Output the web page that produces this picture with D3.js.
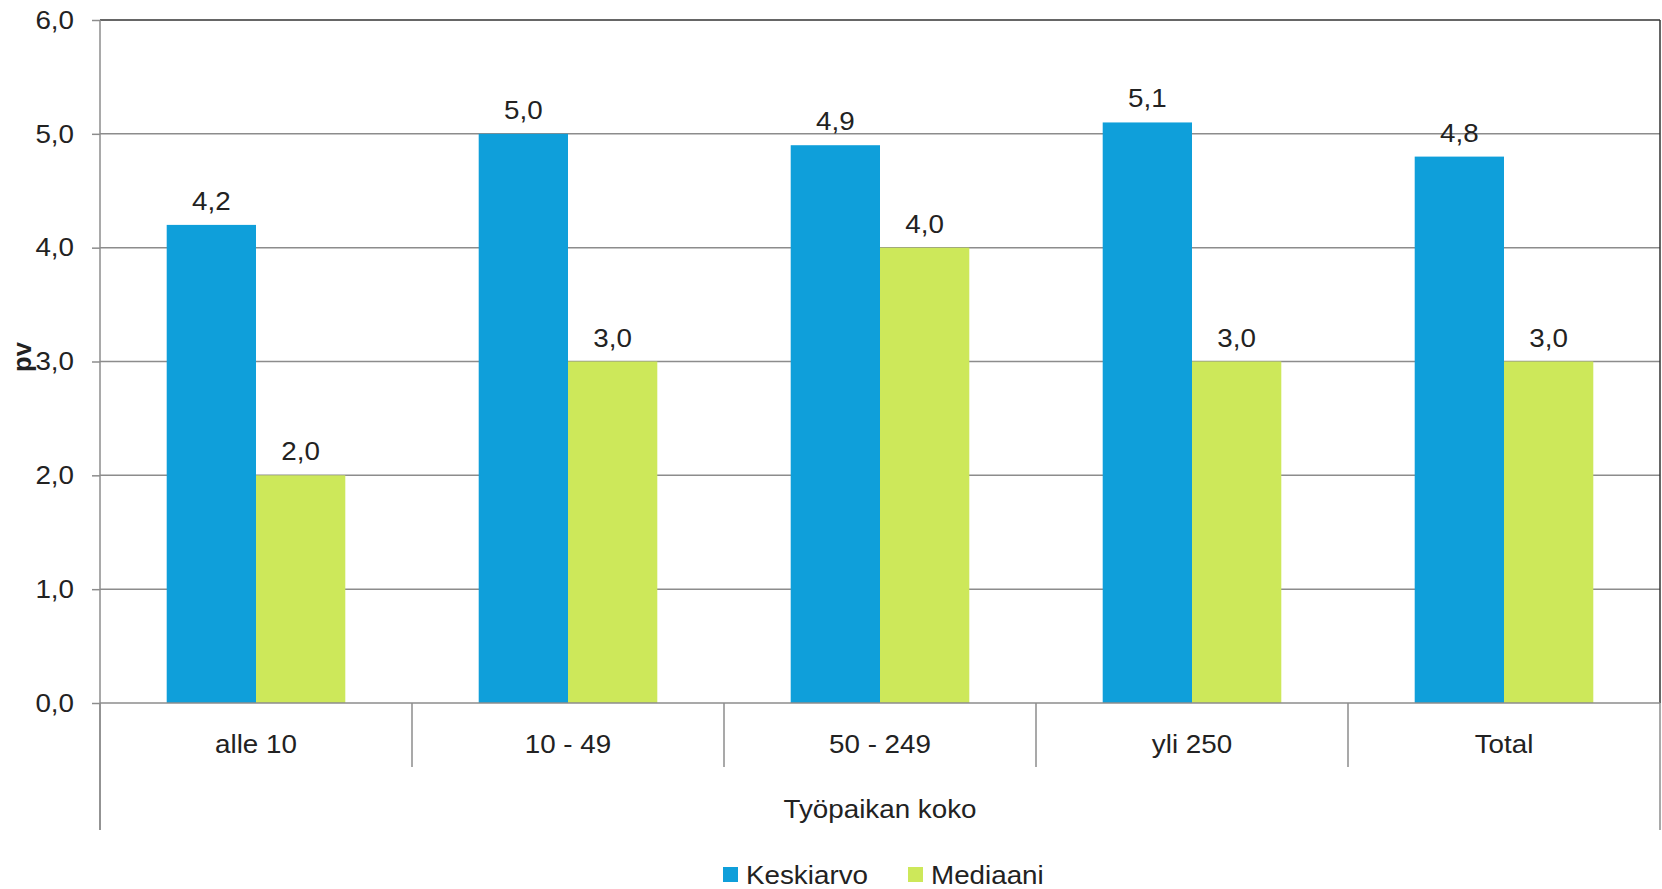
<!DOCTYPE html>
<html>
<head>
<meta charset="utf-8">
<script src="https://cdn.jsdelivr.net/npm/d3@7"></script>
<style>
  html, body { margin: 0; padding: 0; background: #fff; }
  svg { display: block; font-family: "Liberation Sans", Arial, sans-serif; }
</style>
</head>
<body>
<svg id="chart" width="1662" height="889"></svg>
<script>
const categories = ["alle 10", "10 - 49", "50 - 249", "yli 250", "Total"];
const seriesNames = ["Keskiarvo", "Mediaani"];
const keskiarvo = [4.2, 5.0, 4.9, 5.1, 4.8];
const mediaani = [2.0, 3.0, 4.0, 3.0, 3.0];
const yTicks = [0, 1, 2, 3, 4, 5, 6];
const colors = ["#0f9fda", "#cde85a"];
const yTitle = "pv";
const xTitle = "Työpaikan koko";

(function () {
const seriesValues = [keskiarvo, mediaani];
const fmt = v => d3.format(".1f")(v).replace(".", ",");
const FS = 25.5, SX = 1.09;
function stretch(sel) {
  sel.each(function () {
    const t = d3.select(this);
    const x = +t.attr("x") || 0, y = +t.attr("y") || 0;
    t.attr("x", 0).attr("y", 0).attr("transform", `translate(${x},${y}) scale(${SX},1)`);
  });
}

const svg = d3.select("#chart");
const pLeft = 100, pRight = 1660, pTop = 20, pBottom = 703;

const x0 = d3.scaleBand().domain(categories).range([pLeft, pRight]).paddingInner(0).paddingOuter(0);
const x1 = d3.scaleBand().domain(seriesNames).range([0, x0.bandwidth()]).paddingInner(0).paddingOuter(0.747);
const y = d3.scaleLinear().domain([0, 6]).range([pBottom, pTop]);

// gridlines
svg.append("g").selectAll("line").data(yTicks.filter(t => t > 0 && t < 6)).join("line")
  .attr("x1", pLeft).attr("x2", pRight)
  .attr("y1", d => y(d)).attr("y2", d => y(d))
  .attr("stroke", "#8c8c8c").attr("stroke-width", 1.5);

// plot border top & right (dark)
svg.append("line").attr("x1", pLeft).attr("x2", pRight).attr("y1", y(6)).attr("y2", y(6))
  .attr("stroke", "#333").attr("stroke-width", 1.5);
svg.append("line").attr("x1", pRight).attr("x2", pRight).attr("y1", y(6)).attr("y2", y(0))
  .attr("stroke", "#333").attr("stroke-width", 1.5);

// bars
const groups = svg.append("g").selectAll("g").data(categories).join("g")
  .attr("transform", d => `translate(${x0(d)},0)`);
groups.selectAll("rect").data((c, i) => seriesNames.map((s, j) => ({ s, v: seriesValues[j][i], j })))
  .join("rect")
  .attr("x", d => x1(d.s))
  .attr("width", x1.bandwidth())
  .attr("y", d => y(d.v))
  .attr("height", d => y(0) - y(d.v))
  .attr("fill", d => colors[d.j]);
groups.selectAll("text").data((c, i) => seriesNames.map((s, j) => ({ s, v: seriesValues[j][i], j })))
  .join("text")
  .attr("x", d => x1(d.s) + x1.bandwidth() / 2)
  .attr("y", d => y(d.v) - 15)
  .attr("text-anchor", "middle")
  .attr("font-size", FS).attr("fill", "#222")
  .text(d => fmt(d.v))
  .call(stretch);

// y axis
const yAxis = d3.axisLeft(y).tickValues(yTicks).tickFormat(fmt).tickSize(8).tickPadding(18);
const yg = svg.append("g").attr("transform", `translate(${pLeft},0)`).call(yAxis);
yg.select(".domain").remove();
yg.selectAll(".tick line").attr("stroke", "#8c8c8c").attr("stroke-width", 1.5);
yg.selectAll(".tick text").attr("font-size", FS).attr("fill", "#222")
  .attr("font-family", "Liberation Sans, Arial, sans-serif").call(stretch);
svg.append("line").attr("x1", pLeft).attr("x2", pLeft).attr("y1", pTop).attr("y2", 830)
  .attr("stroke", "#8c8c8c").attr("stroke-width", 1.5);

// x axis
svg.append("line").attr("x1", pLeft).attr("x2", pRight).attr("y1", y(0)).attr("y2", y(0))
  .attr("stroke", "#8c8c8c").attr("stroke-width", 1.5);
const xAxis = d3.axisBottom(x0).tickSize(0).tickPadding(0);
const xg = svg.append("g").attr("transform", `translate(0,${y(0)})`).call(xAxis);
xg.select(".domain").remove();
xg.selectAll(".tick text").attr("font-size", FS).attr("fill", "#222")
  .attr("font-family", "Liberation Sans, Arial, sans-serif").attr("dy", null).attr("y", 50)
  .call(stretch);
// separators
const bounds = categories.map(c => x0(c)).concat([pRight]);
svg.append("g").selectAll("line").data(bounds).join("line")
  .attr("x1", d => d).attr("x2", d => d)
  .attr("y1", y(0)).attr("y2", (d, i) => (i === 0 || i === bounds.length - 1) ? 830 : 767)
  .attr("stroke", "#8c8c8c").attr("stroke-width", 1.5);

// x title
svg.append("text").attr("x", (pLeft + pRight) / 2).attr("y", 818).attr("text-anchor", "middle")
  .attr("font-size", FS).attr("fill", "#222").text(xTitle).call(stretch);

// y title
svg.append("text").attr("transform", "translate(31,357) rotate(-90)").attr("text-anchor", "middle")
  .attr("font-size", FS).attr("font-weight", "bold").attr("fill", "#222").text(yTitle);

// legend
const legendItems = [{ name: seriesNames[0], x: 723 }, { name: seriesNames[1], x: 908 }];
const lg = svg.append("g").selectAll("g").data(legendItems).join("g")
  .attr("transform", d => `translate(${d.x},867)`);
lg.append("rect").attr("width", 15).attr("height", 15).attr("fill", (d, i) => colors[i]);
lg.append("text").attr("x", 23).attr("y", 17).attr("font-size", FS).attr("fill", "#222")
  .text(d => d.name).call(stretch);
})();
</script>
</body>
</html>
